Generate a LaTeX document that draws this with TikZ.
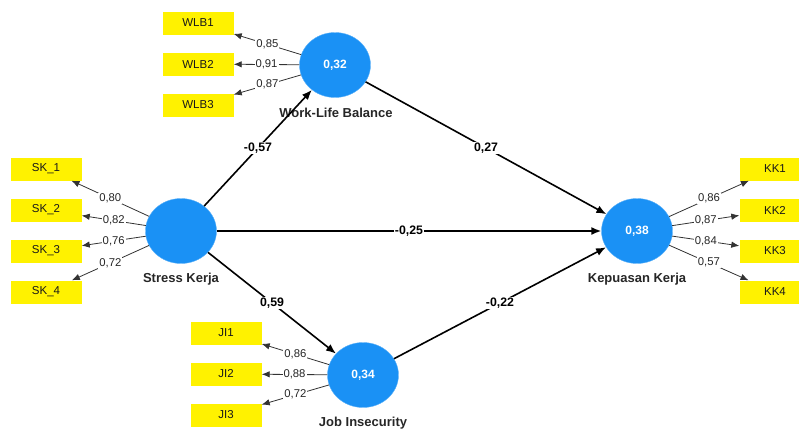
\documentclass[tikz,border=0pt]{standalone}
\usepackage{fontspec}
\setmainfont{Liberation Sans}
\usetikzlibrary{shapes.geometric,arrows.meta}
\definecolor{lvblue}{HTML}{1A91F5}
\tikzset{
  latent/.style={ellipse, fill=lvblue, draw=lvblue!70!white, minimum width=71pt, minimum height=65pt, text=white, font=\bfseries\fontsize{12}{14}\selectfont},
  indicator/.style={fill=yellow, minimum width=71pt, minimum height=23pt, inner sep=0pt, font=\fontsize{11.5}{13}\selectfont, text=black!90},
  lvname/.style={font=\bfseries\fontsize{13}{15}\selectfont, text=black!85},
  struct/.style={-{Latex[length=10pt,width=8pt]}, line width=1.6pt},
  outer/.style={-{Latex[length=8pt,width=6.5pt]}, line width=0.8pt, draw=black!80},
  coef/.style={midway, fill=white, inner sep=1pt, font=\bfseries\fontsize{12.3}{14}\selectfont},
  loading/.style={midway, fill=white, inner sep=1pt, font=\fontsize{11.3}{13}\selectfont, text=black!85}
}

\begin{document}
\begin{tikzpicture}[x=1pt,y=-1pt]
  \clip (0,0) rectangle (799,431);
  % latent variables
  \node[latent] (SK) at (181,231) {};
  \node[latent] (WLB) at (335,65) {0,32};
  \node[latent] (JI) at (363,375) {0,34};
  \node[latent] (KK) at (637,231) {0,38};
  \node[lvname] (lSK) at (181,279) {Stress Kerja};
  \node[lvname] (lWLB) at (336,113) {Work-Life Balance};
  \node[lvname] (lJI) at (363,423) {Job Insecurity};
  \node[lvname] (lKK) at (637,279) {Kepuasan Kerja};
  % indicators
  \foreach \n/\y/\v in {1/169/0{,}80,2/210/0{,}82,3/251/0{,}76,4/292/0{,}72}{
    \node[indicator] (SK\n) at (46,\y) {SK\_\n};
    \draw[outer] (SK) -- node[loading]{\v} (SK\n);
  }
  \foreach \n/\y/\v in {1/169/0{,}86,2/210/0{,}87,3/251/0{,}84,4/292/0{,}57}{
    \node[indicator] (KK\n) at (775,\y) {KK\n};
    \draw[outer] (KK) -- node[loading]{\v} (KK\n);
  }
  \foreach \n/\y/\v in {1/23/0{,}85,2/64/0{,}91,3/105/0{,}87}{
    \node[indicator] (WLB\n) at (198,\y) {WLB\n};
    \draw[outer] (WLB) -- node[loading]{\v} (WLB\n);
  }
  \foreach \n/\y/\v in {1/333/0{,}86,2/374/0{,}88,3/415/0{,}72}{
    \node[indicator] (JI\n) at (226,\y) {JI\n};
    \draw[outer] (JI) -- node[loading]{\v} (JI\n);
  }
  % structural paths
  \draw[struct] (SK) -- node[coef]{-0,57} (WLB);
  \draw[struct] (WLB) -- node[coef]{0,27} (KK);
  \draw[struct] (SK) -- node[coef]{-0,25} (KK);
  \draw[struct] (SK) -- node[coef]{0,59} (JI);
  \draw[struct] (JI) -- node[coef]{-0,22} (KK);
\end{tikzpicture}
\end{document}
